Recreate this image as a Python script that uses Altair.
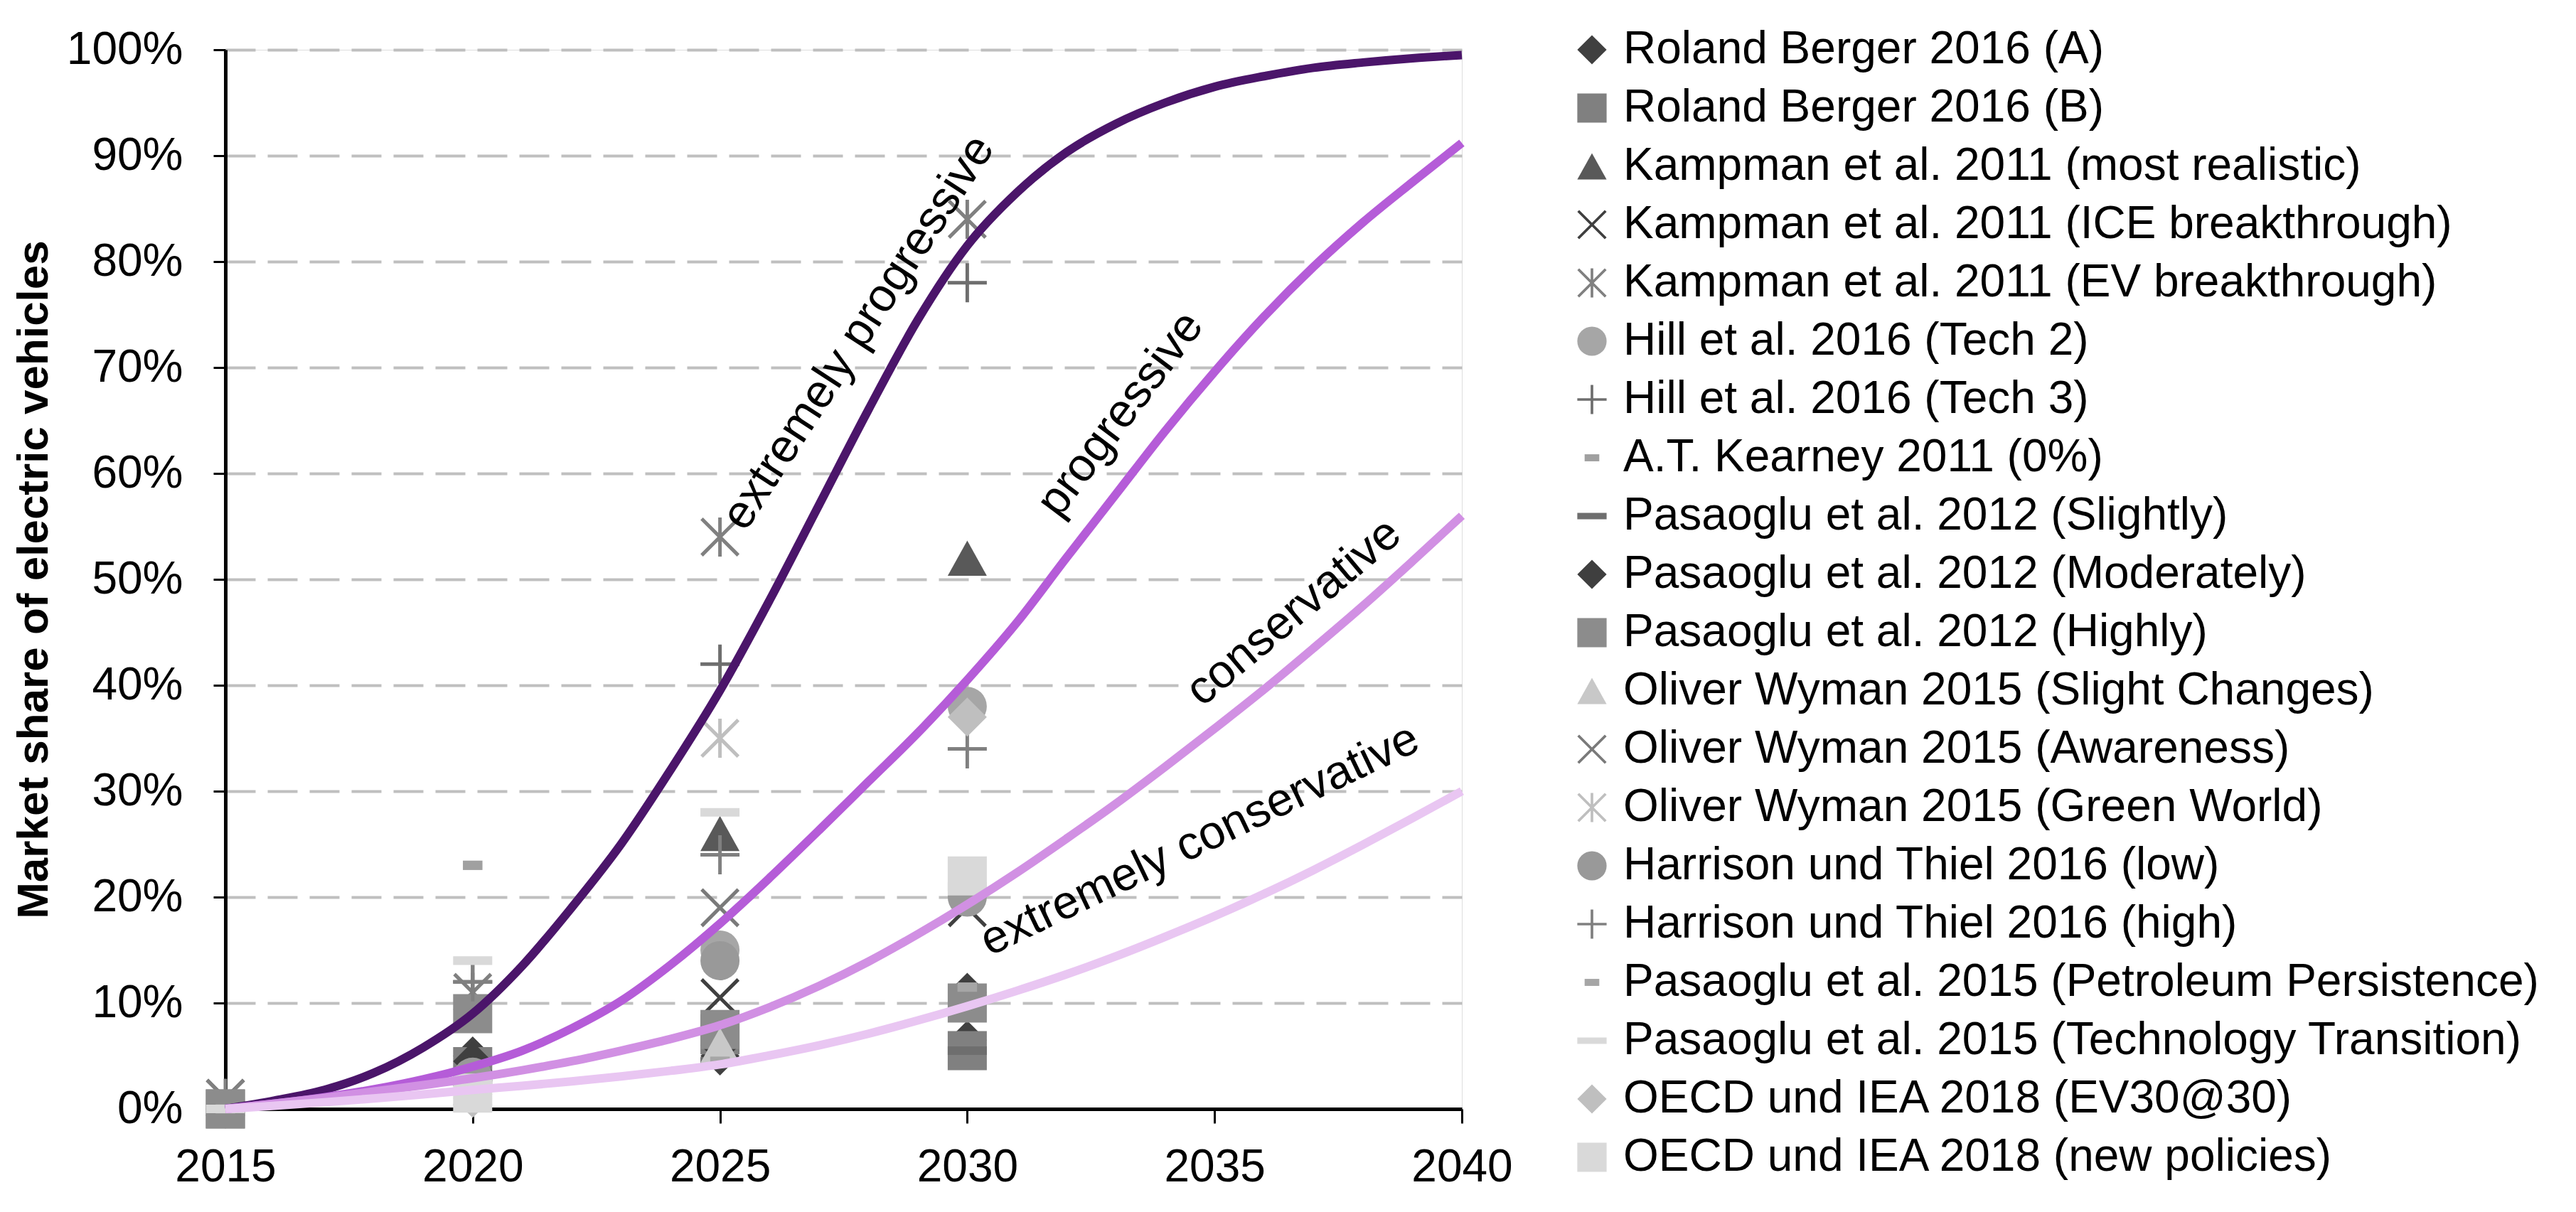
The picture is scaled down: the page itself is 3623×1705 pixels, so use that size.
import altair as alt
import pandas as pd

# ---------------- data ----------------
obs_years = [2015, 2020, 2025, 2030]

series_names = [
    "Roland Berger 2016 (A)",
    "Roland Berger 2016 (B)",
    "Kampman et al. 2011 (most realistic)",
    "Kampman et al. 2011 (ICE breakthrough)",
    "Kampman et al. 2011 (EV breakthrough)",
    "Hill et al. 2016 (Tech 2)",
    "Hill et al. 2016 (Tech 3)",
    "A.T. Kearney 2011 (0%)",
    "Pasaoglu et al. 2012 (Slightly)",
    "Pasaoglu et al. 2012 (Moderately)",
    "Pasaoglu et al. 2012 (Highly)",
    "Oliver Wyman 2015 (Slight Changes)",
    "Oliver Wyman 2015 (Awareness)",
    "Oliver Wyman 2015 (Green World)",
    "Harrison und Thiel 2016 (low)",
    "Harrison und Thiel 2016 (high)",
    "Pasaoglu et al. 2015 (Petroleum Persistence)",
    "Pasaoglu et al. 2015 (Technology Transition)",
    "OECD und IEA 2018 (EV30@30)",
    "OECD und IEA 2018 (new policies)",
]

# market share in % at 2015, 2020, 2025, 2030 (None = no value)
roland_berger_a = [None, 5, 5, 6.5]
roland_berger_b = [0, 4, 7, 5.5]
kampman_realistic = [None, 3, 26, 52]
kampman_ice = [1, 2, 10.5, 19]
kampman_ev = [1, 11, 54, 84]
hill_tech2 = [None, 3, 15, 38]
hill_tech3 = [None, 12, 42, 78]
kearney = [None, 23, None, None]
pasaoglu12_slightly = [0, 3, 4.5, 5.5]
pasaoglu12_moderately = [0, 4.5, 6, 11]
pasaoglu12_highly = [0, 9, 7.5, 10]
wyman_slight = [None, None, 6, None]
wyman_awareness = [None, None, 19, None]
wyman_green = [None, None, 35, None]
harrison_low = [None, 3, 14, 20]
harrison_high = [None, 12, 24, 34]
pasaoglu15_petroleum = [0, 2, 4.5, 11.5]
pasaoglu15_technology = [0, 14, 28, 21]
oecd_ev3030 = [None, 1, None, 37]
oecd_new_policies = [None, 1.5, None, 22]

series_values = [
    roland_berger_a, roland_berger_b, kampman_realistic, kampman_ice, kampman_ev,
    hill_tech2, hill_tech3, kearney, pasaoglu12_slightly, pasaoglu12_moderately,
    pasaoglu12_highly, wyman_slight, wyman_awareness, wyman_green, harrison_low,
    harrison_high, pasaoglu15_petroleum, pasaoglu15_technology, oecd_ev3030,
    oecd_new_policies,
]

# curves (market share %, yearly 2015..2040)
curve_years = list(range(2015, 2041))
extremely_progressive = [0, 0.8, 1.8, 3.4, 5.8, 9, 13.5, 19, 25, 32, 39.5, 48, 57, 66,
                         74.5, 81.5, 86.5, 90.3, 93, 95, 96.5, 97.5, 98.3, 98.8, 99.2, 99.5]
progressive = [0, 0.5, 1.1, 1.85, 2.8, 4, 5.5, 7.6, 10.2, 13.6, 17.5, 21.8, 26.3, 30.9,
               35.5, 40.5, 45.9, 52, 58, 64, 69.6, 74.8, 79.5, 83.7, 87.5, 91.2]
conservative = [0, 0.5, 1.05, 1.65, 2.25, 2.9, 3.65, 4.5, 5.5, 6.6, 7.9, 9.6, 11.6, 13.9,
                16.5, 19.3, 22.3, 25.5, 28.8, 32.3, 35.9, 39.6, 43.5, 47.5, 51.7, 56]
extremely_conservative = [0, 0.3, 0.63, 0.99, 1.38, 1.8, 2.18, 2.6, 3.07, 3.6, 4.2, 5.05,
                          6.0, 7.1, 8.35, 9.7, 11.15, 12.7, 14.4, 16.25, 18.2, 20.3, 22.55,
                          24.95, 27.45, 30]
curve_names = ["extremely progressive", "progressive", "conservative", "extremely conservative"]
curve_values = [extremely_progressive, progressive, conservative, extremely_conservative]

# curve labels: anchor (year, share) and text angle
label_texts = ["extremely progressive", "progressive", "conservative", "extremely conservative"]
label_years = [2027.8, 2033.1, 2036.6, 2034.7]
label_shares = [73.3, 65.6, 46.9, 25.4]
label_angles = [303, 307, 320, 334.4]

# ---------------- styles ----------------
curve_colors = ["#4b156a", "#b55cd8", "#d190e3", "#e9c6f2"]
series_colors = [
    "#404040", "#808080", "#595959", "#404040", "#808080",
    "#a6a6a6", "#6e6e6e", "#a0a0a0", "#6e6e6e", "#3f3f3f",
    "#8c8c8c", "#c8c8c8", "#7a7a7a", "#bfbfbf", "#999999",
    "#808080", "#a6a6a6", "#d9d9d9", "#bfbfbf", "#d9d9d9",
]


def rect(x0, y0, x1, y1):
    return f"M{x0},{y0}L{x1},{y0}L{x1},{y1}L{x0},{y1}Z"


w = 0.09
a = 0.13
PLUS = rect(-1, -w, 1, w) + rect(-w, -1, w, 1)
XSHAPE = (f"M{-1 + a},-1L1,{1 - a}L{1 - a},1L-1,{-1 + a}Z"
          f"M-1,{1 - a}L{1 - a},-1L1,{-1 + a}L{-1 + a},1Z")
ASTER = XSHAPE + rect(-w, -1, w, 1)
TRI = "M0,-0.9L1,0.9L-1,0.9Z"
DASH_LONG = rect(-1, -0.22, 1, 0.22)
DASH_SHORT = rect(-0.5, -0.24, 0.5, 0.24)
shape_map = {
    "diamond": "diamond", "square": "square", "circle": "circle",
    "triangle": TRI, "x": XSHAPE, "asterisk": ASTER, "plus": PLUS,
    "dash_long": DASH_LONG, "dash_short": DASH_SHORT,
}
series_shapes = [
    "diamond", "square", "triangle", "x", "asterisk",
    "circle", "plus", "dash_short", "dash_long", "diamond",
    "square", "triangle", "x", "asterisk", "circle",
    "plus", "dash_short", "dash_long", "diamond", "square",
]
shape_range = [shape_map[s] for s in series_shapes]

# ---------------- tables ----------------
rows = []
for i, (name, vals) in enumerate(zip(series_names, series_values)):
    for yr, v in zip(obs_years, vals):
        if v is not None:
            rows.append({"series": name, "year": yr, "share": v, "idx": i})
obs_df = pd.DataFrame(rows)

crows = []
for name, vals in zip(curve_names, curve_values):
    for yr, v in zip(curve_years, vals):
        crows.append({"curve": name, "year": yr, "share": v})
curve_df = pd.DataFrame(crows)

label_df = pd.DataFrame({"label": label_texts, "year": label_years,
                         "share": label_shares, "angle": label_angles})

# ---------------- axes / scales ----------------
FONT = "Liberation Sans"
xscale = alt.Scale(domain=[2015, 2040], nice=False, zero=False)
yscale = alt.Scale(domain=[0, 100], nice=False, zero=True)
x_axis = alt.Axis(values=[2015, 2020, 2025, 2030, 2035, 2040], format="d", title=None,
                  labelFontSize=64, labelColor="black", labelFont=FONT, labelPadding=30,
                  labelFlush=False, labelOverlap=False,
                  tickSize=20, tickColor="black", tickWidth=3,
                  domainColor="black", domainWidth=5, grid=False)
y_axis = alt.Axis(values=list(range(0, 101, 10)), labelExpr="datum.value + '%'",
                  title="Market share of electric vehicles", titleFont=FONT,
                  titleFontSize=62, titleFontWeight="bold", titleColor="black",
                  titleX=-270, titleY=745, titleAngle=270, titleAlign="center",
                  titleBaseline="middle",
                  labelFontSize=64, labelColor="black", labelFont=FONT, labelPadding=43,
                  labelFlush=False, labelOverlap=False,
                  tickSize=17, tickColor="black", tickWidth=3,
                  domainColor="black", domainWidth=5,
                  grid=True, gridColor="#bfbfbf", gridWidth=4, gridDash=[42, 17])

legend = alt.Legend(title=None, orient="none", legendX=1890, legendY=-32,
                    labelFontSize=64, labelFont=FONT, labelColor="black", labelLimit=3000,
                    symbolSize=1700, symbolStrokeWidth=0, symbolOpacity=1,
                    rowPadding=18, labelOffset=12, padding=0, direction="vertical")

points = alt.Chart(obs_df).mark_point(filled=True, size=3025, opacity=1, strokeWidth=0).encode(
    x=alt.X("year:Q", scale=xscale, axis=x_axis),
    y=alt.Y("share:Q", scale=yscale, axis=y_axis),
    fill=alt.Fill("series:N", scale=alt.Scale(domain=series_names, range=series_colors),
                  legend=legend),
    shape=alt.Shape("series:N", scale=alt.Scale(domain=series_names, range=shape_range),
                    legend=legend),
)

lines = alt.Chart(curve_df).mark_line(strokeWidth=12, interpolate="monotone").encode(
    x=alt.X("year:Q", scale=xscale, axis=x_axis),
    y=alt.Y("share:Q", scale=yscale, axis=y_axis),
    color=alt.Color("curve:N", scale=alt.Scale(domain=curve_names, range=curve_colors),
                    legend=None),
)

texts = alt.Chart(label_df).mark_text(fontSize=66, font=FONT, color="black",
                                      align="center", baseline="middle").encode(
    x=alt.X("year:Q", scale=xscale, axis=x_axis),
    y=alt.Y("share:Q", scale=yscale, axis=y_axis),
    text="label:N",
    angle=alt.Angle("angle:Q", scale=None),
)

chart = alt.layer(points, lines, texts).properties(
    width=1739, height=1490,
    autosize=alt.AutoSizeParams(type="none"),
    padding={"left": 309, "top": 62, "right": 1559, "bottom": 137},
).configure_view(stroke=None).configure(font=FONT)

chart.save("out.html", embed_options={"renderer": "svg", "actions": False})
